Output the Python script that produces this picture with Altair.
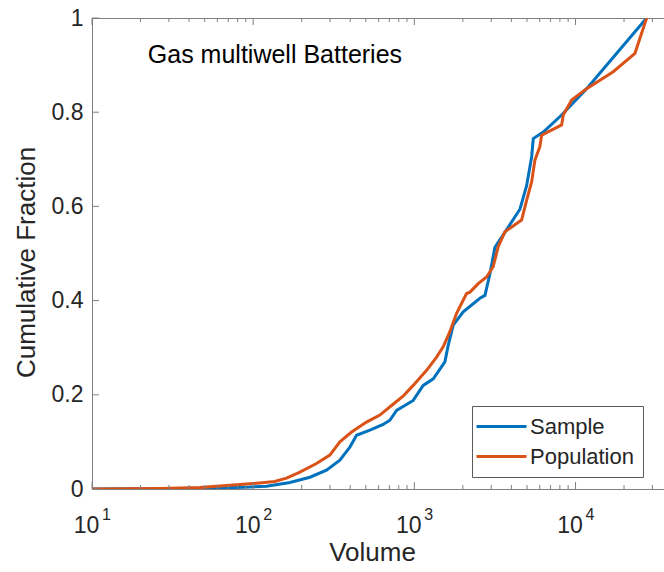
import altair as alt
import pandas as pd

# ---- data ----
sample_volume = [10, 46.6, 95, 121, 169, 225, 285, 345, 398, 438, 530, 640, 705, 776, 984,
                 1135, 1310, 1547, 1622, 1742, 2011, 2551, 2742, 2945, 3162, 3645,
                 4520, 4972, 5342, 5470, 6310, 8200, 11720, 27620]
sample_frac = [0.0, 0.001, 0.004, 0.006, 0.014, 0.025, 0.040, 0.061, 0.089, 0.114,
               0.125, 0.137, 0.146, 0.167, 0.188, 0.220, 0.234, 0.270, 0.305, 0.348, 0.376,
               0.405, 0.411, 0.457, 0.513, 0.545, 0.594, 0.644, 0.705, 0.744, 0.758,
               0.794, 0.850, 1.0]

pop_volume = [10, 26.3, 46.6, 95.3, 136, 161, 195, 247, 299, 345, 408, 505, 611, 738,
              851, 984, 1191, 1374, 1510, 1661, 1828, 2109, 2213, 2490, 2807, 3084,
              3311, 3645, 4627, 4972, 5342, 5598, 6012, 6160, 8200, 8395, 9462,
              11720, 17140, 23380, 27620]
pop_frac = [0.0, 0.001, 0.003, 0.011, 0.016, 0.023, 0.036, 0.054, 0.072, 0.100, 0.121,
            0.142, 0.157, 0.180, 0.197, 0.220, 0.252, 0.280, 0.302, 0.334, 0.373,
            0.415, 0.418, 0.436, 0.450, 0.472, 0.514, 0.546, 0.571, 0.613, 0.652,
            0.698, 0.727, 0.751, 0.773, 0.794, 0.826, 0.850, 0.886, 0.925, 1.0]

series_names = ["Sample", "Population"]
series_colors = ["#0072BD", "#D95319"]

x_major = [10, 100, 1000, 10000]
x_exponents = ["1", "2", "3", "4"]
x_minor = [20, 30, 40, 50, 60, 70, 80, 90,
           200, 300, 400, 500, 600, 700, 800, 900,
           2000, 3000, 4000, 5000, 6000, 7000, 8000, 9000,
           20000, 30000]
y_major = [0, 0.2, 0.4, 0.6, 0.8, 1.0]

annotation_text = "Gas multiwell Batteries"
annotation_x = 22.2
annotation_y = 0.904

x_domain = [10, 35400]

FONT = "Liberation Sans"
TXT = "#262626"
AX = "#808080"
W, H = 572, 471

# ---- tables ----
rows = []
for i, (v, f) in enumerate(zip(sample_volume, sample_frac)):
    rows.append({"series": "Sample", "volume": v, "frac": f, "idx": i})
for i, (v, f) in enumerate(zip(pop_volume, pop_frac)):
    rows.append({"series": "Population", "volume": v, "frac": f, "idx": i})
df = pd.DataFrame(rows)

xscale = alt.Scale(type="log", domain=x_domain, nice=False)
yscale = alt.Scale(domain=[0, 1], nice=False)
cscale = alt.Scale(domain=series_names, range=series_colors)

x_axis = alt.Axis(
    values=x_major, labelExpr="'10'", title="Volume", ticks=False, tickSize=0,
    domain=False, grid=False, labelFont=FONT, labelFontSize=23, labelColor=TXT,
    labelBaseline="alphabetic", labelPadding=43, labelOffset=-6, labelFlush=False,
    titleFont=FONT, titleFontSize=26, titleFontWeight="normal", titleColor=TXT,
    titleBaseline="alphabetic", titleY=71, titleX=280, titleAlign="center",
)
y_axis = alt.Axis(
    values=y_major,
    labelExpr="datum.value == 0 ? '0' : datum.value == 1 ? '1' : format(datum.value, '.1f')",
    title="Cumulative Fraction", ticks=False, tickSize=0, domain=False, grid=False,
    labelFont=FONT, labelFontSize=23, labelColor=TXT, labelPadding=9,
    labelFlush=False,
    titleFont=FONT, titleFontSize=26, titleFontWeight="normal", titleColor=TXT,
    titleBaseline="alphabetic", titleAngle=270, titleX=-58, titleY=244,
    titleAlign="center",
)

legend = alt.Legend(
    title=None, orient="none", legendX=380, legendY=388,
    symbolType="M-2.5,0H2.5", symbolSize=400, symbolStrokeWidth=3,
    symbolOffset=9, symbolFillColor="transparent",
    labelFont=FONT, labelFontSize=22, labelColor=TXT, labelOffset=17,
    padding=9, rowPadding=7, strokeColor="#5a5a5a", fillColor="white",
    cornerRadius=0,
)

base = alt.Chart(df)

sample_line = base.transform_filter(alt.datum.series == "Sample").mark_line(
    strokeWidth=3, clip=True
).encode(
    x=alt.X("volume:Q", scale=xscale, axis=x_axis),
    y=alt.Y("frac:Q", scale=yscale, axis=y_axis),
    color=alt.Color("series:N", scale=cscale, legend=legend),
    order="idx:Q",
)
pop_line = base.transform_filter(alt.datum.series == "Population").mark_line(
    strokeWidth=3, clip=True
).encode(
    x=alt.X("volume:Q", scale=xscale, axis=x_axis),
    y=alt.Y("frac:Q", scale=yscale, axis=y_axis),
    color=alt.Color("series:N", scale=cscale, legend=legend),
    order="idx:Q",
)

minor_df = pd.DataFrame({"volume": x_minor})
major_df = pd.DataFrame({"volume": x_major, "exp": x_exponents})
ymaj_df = pd.DataFrame({"frac": y_major})

def xticks(data, length):
    bot = alt.Chart(data).mark_rule(color=AX, strokeWidth=1).encode(
        x=alt.X("volume:Q", scale=xscale),
        y=alt.value(H), y2=alt.value(H - length),
    )
    top = alt.Chart(data).mark_rule(color=AX, strokeWidth=1).encode(
        x=alt.X("volume:Q", scale=xscale),
        y=alt.value(0), y2=alt.value(length),
    )
    return bot + top

yticks = alt.Chart(ymaj_df).mark_rule(color=AX, strokeWidth=1).encode(
    y=alt.Y("frac:Q", scale=yscale),
    x=alt.value(0), x2=alt.value(7),
)

exps = alt.Chart(major_df).mark_text(
    font=FONT, fontSize=16, color=TXT, align="left", baseline="alphabetic", dx=10
).encode(
    x=alt.X("volume:Q", scale=xscale),
    y=alt.value(H + 31),
    text="exp:N",
)

anno_df = pd.DataFrame({"volume": [annotation_x], "frac": [annotation_y], "t": [annotation_text]})
anno = alt.Chart(anno_df).mark_text(
    font=FONT, fontSize=25, color="#000000", align="left", baseline="alphabetic"
).encode(
    x=alt.X("volume:Q", scale=xscale),
    y=alt.Y("frac:Q", scale=yscale),
    text="t:N",
)

chart = alt.layer(
    sample_line, pop_line, xticks(minor_df, 4), xticks(major_df, 7), yticks, exps, anno
).properties(
    width=W, height=H,
    autosize=alt.AutoSizeParams(type="none"),
    padding={"left": 92, "top": 18, "right": 0, "bottom": 83},
    background="white",
).configure_view(stroke=AX, strokeWidth=1)

chart.save("out.html", embed_options={"renderer": "svg", "actions": False})
